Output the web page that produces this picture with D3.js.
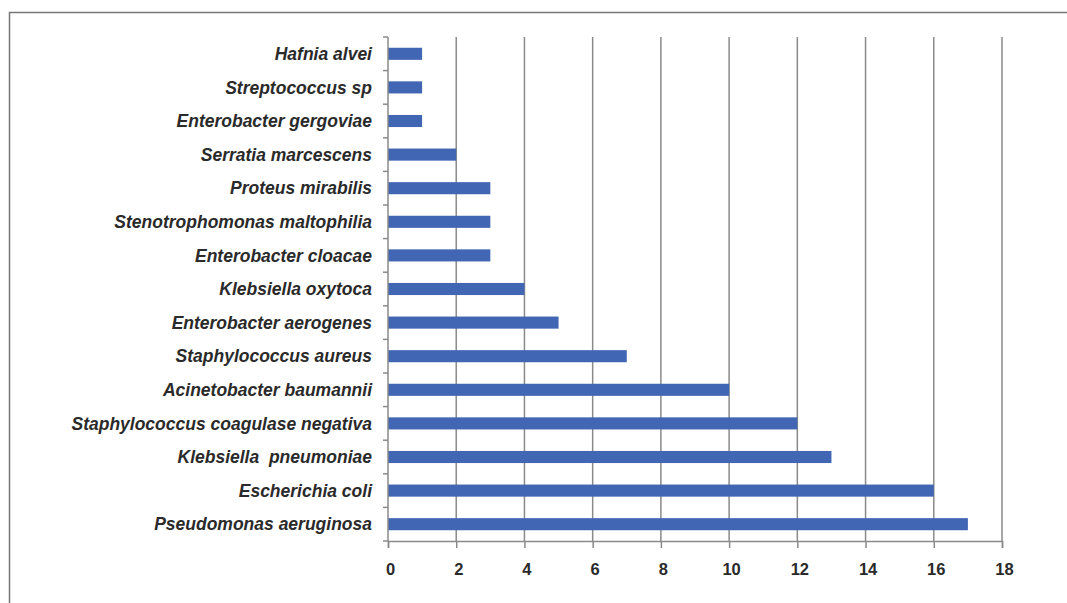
<!DOCTYPE html>
<html>
<head>
<meta charset="utf-8">
<script src="https://cdn.jsdelivr.net/npm/d3@7"></script>
<style>
body { margin: 0; background: #fff; }
</style>
</head>
<body>
<div id="graph"></div>
<script>
var w = 1067, h = 603;

var species = ["Hafnia alvei", "Streptococcus sp", "Enterobacter gergoviae", "Serratia marcescens",
	"Proteus mirabilis", "Stenotrophomonas maltophilia", "Enterobacter cloacae", "Klebsiella oxytoca",
	"Enterobacter aerogenes", "Staphylococcus aureus", "Acinetobacter baumannii",
	"Staphylococcus coagulase negativa", "Klebsiella  pneumoniae", "Escherichia coli", "Pseudomonas aeruginosa"];
var counts = [1, 1, 1, 2, 3, 3, 3, 4, 5, 7, 10, 12, 13, 16, 17];
var xTicks = [0, 2, 4, 6, 8, 10, 12, 14, 16, 18];

var svg = d3.select("#graph")
	.append("svg")
	.attr("width", w)
	.attr("height", h);

// outer frame
svg.append("rect")
	.attr("x", 9.5)
	.attr("y", 12.5)
	.attr("width", w + 20)
	.attr("height", h + 20)
	.attr("fill", "none")
	.attr("stroke", "#777")
	.attr("stroke-width", 1.5);

var x = d3.scaleLinear().domain([0, 18]).range([388, 1002]);
var y = d3.scaleBand().domain(species).range([37, 541]).paddingInner(0.64).paddingOuter(0.32);
var yb = d3.scaleBand().domain(species).range([37, 541]);

// gridlines
svg.selectAll(".grid")
	.data(xTicks.slice(1))
	.enter().append("line")
	.attr("x1", function(d) { return x(d); })
	.attr("x2", function(d) { return x(d); })
	.attr("y1", 37)
	.attr("y2", 541)
	.attr("stroke", "#8a8a8a")
	.attr("stroke-width", 1.5);

// bars
svg.selectAll(".bar")
	.data(counts)
	.enter().append("rect")
	.attr("x", x(0))
	.attr("y", function(d, i) { return y(species[i]); })
	.attr("width", function(d) { return x(d) - x(0); })
	.attr("height", y.bandwidth())
	.attr("fill", "#4066b4");

// x axis
var xAxis = svg.append("g")
	.attr("transform", "translate(0,541)")
	.call(d3.axisBottom(x).tickValues(xTicks).tickSize(7).tickPadding(15));
xAxis.select(".domain").attr("stroke", "#8a8a8a").attr("stroke-width", 1.5);
xAxis.selectAll(".tick line").attr("stroke", "#8a8a8a").attr("stroke-width", 1.5);
xAxis.selectAll("text")
	.attr("fill", "#2a2a2a")
	.attr("dx", "2")
	.style("font-family", "Liberation Sans, Arial, sans-serif")
	.style("font-size", "16.5px")
	.style("font-weight", "bold");

// y axis line and tick marks at band edges
svg.append("line")
	.attr("x1", x(0)).attr("x2", x(0))
	.attr("y1", 37).attr("y2", 541)
	.attr("stroke", "#8a8a8a").attr("stroke-width", 1.5);

var edges = species.map(function(s) { return yb(s); }).concat([541]);
svg.selectAll(".ytick")
	.data(edges)
	.enter().append("line")
	.attr("x1", x(0) - 5).attr("x2", x(0))
	.attr("y1", function(d) { return d; })
	.attr("y2", function(d) { return d; })
	.attr("stroke", "#8a8a8a").attr("stroke-width", 1.5);

// category labels
svg.selectAll(".lbl")
	.data(species)
	.enter().append("text")
	.text(function(d) { return d; })
	.attr("x", 372)
	.attr("y", function(d) { return yb(d) + yb.bandwidth() / 2; })
	.attr("dy", "0.35em")
	.attr("text-anchor", "end")
	.attr("fill", "#2a2a2a")
	.style("white-space", "pre")
	.style("font-family", "Liberation Sans, Arial, sans-serif")
	.style("font-size", "17.5px")
	.style("font-weight", "bold")
	.style("font-style", "italic");
</script>
</body>
</html>
